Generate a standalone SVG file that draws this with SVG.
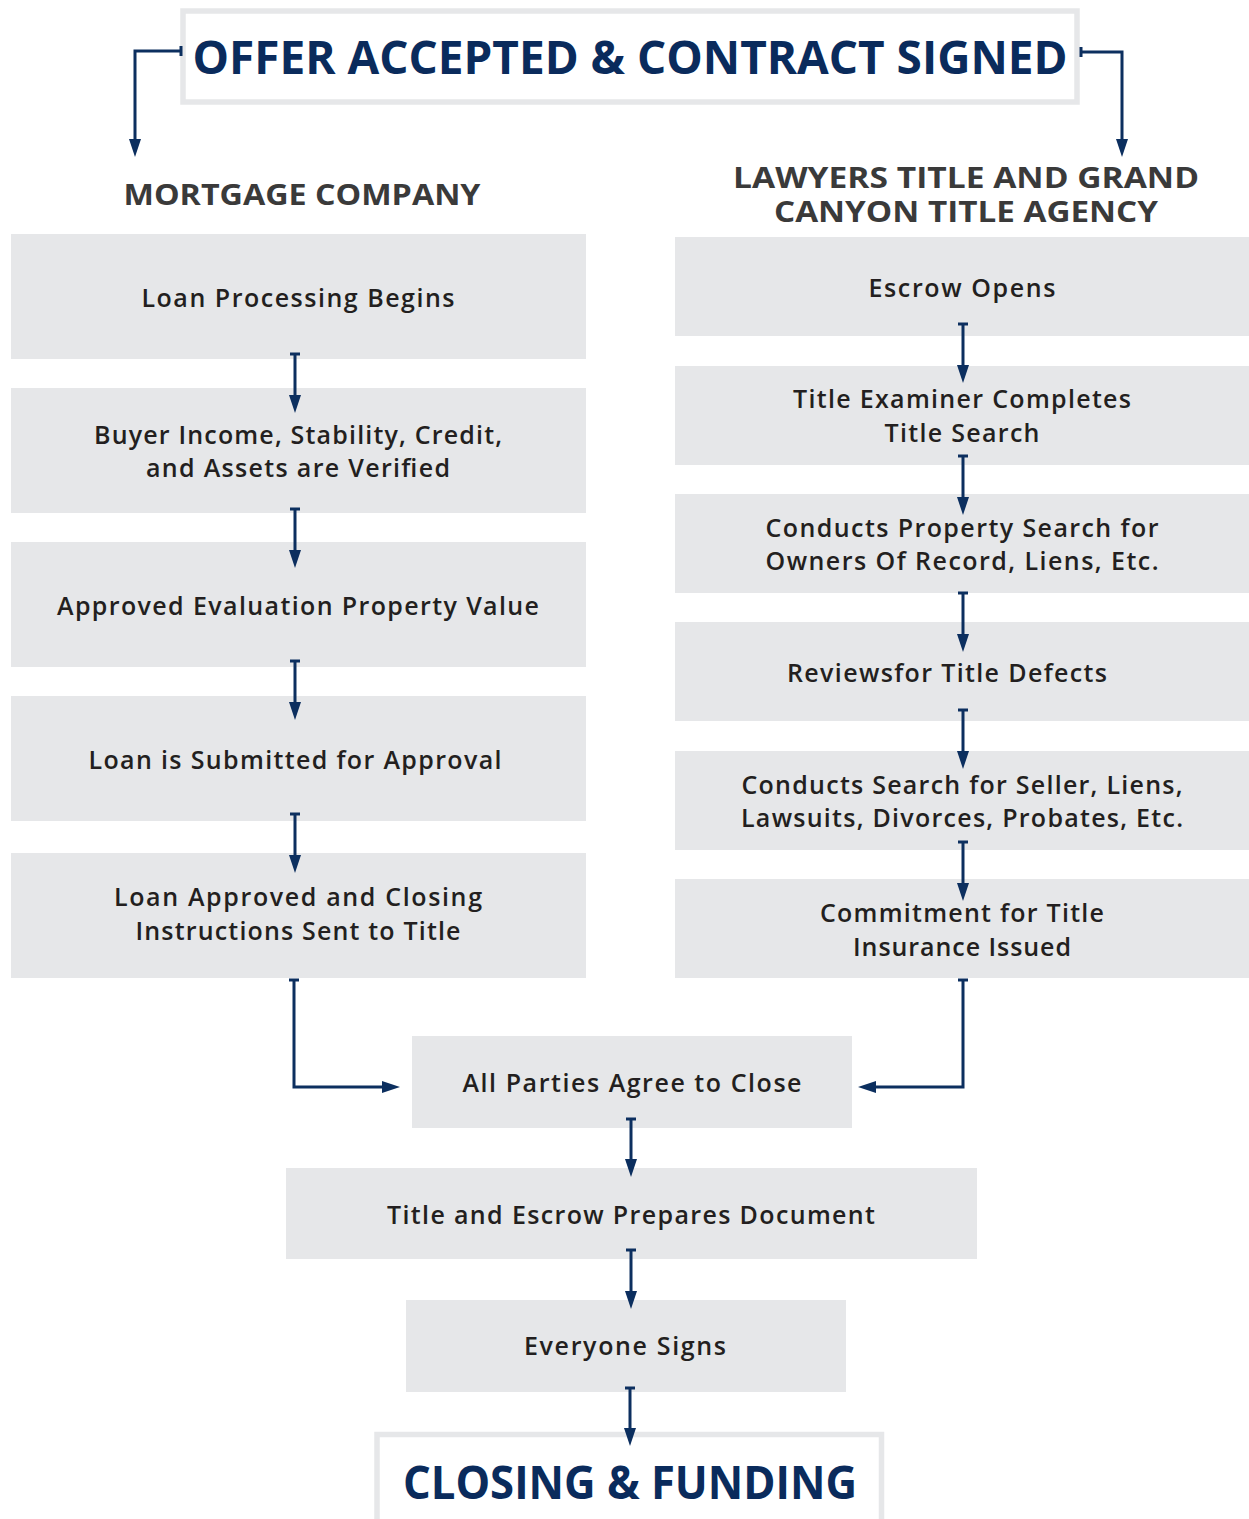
<svg xmlns="http://www.w3.org/2000/svg" width="1249" height="1519" viewBox="0 0 1249 1519">
<style>
.box{fill:#e6e7e9}
.frame{fill:#fff;stroke:#e6e7e9;stroke-width:5.5}
.t{font-family:"Open Sans","Liberation Sans",sans-serif;font-weight:600;font-size:25px;fill:#231f20;text-anchor:middle}
.h{font-family:"Open Sans","Liberation Sans",sans-serif;font-weight:700;font-size:29px;fill:#3a3a3a;text-anchor:middle}
.big{font-family:"Open Sans","Liberation Sans",sans-serif;font-weight:700;font-size:46px;fill:#0a2b5c;text-anchor:middle}
.c{fill:none;stroke:#0c2f5f;stroke-width:3;marker-start:url(#tick);marker-end:url(#head)}
</style>
<defs>
<marker id="head" markerUnits="userSpaceOnUse" viewBox="0 0 18 12" refX="10" refY="6" markerWidth="18" markerHeight="12" orient="auto">
<path d="M0,0 L18,6 L0,12 z" fill="#0c2f5f"/>
</marker>
<marker id="tick" markerUnits="userSpaceOnUse" viewBox="-2 -6 4 12" refX="0" refY="0" markerWidth="4" markerHeight="12" orient="auto">
<rect x="-1.5" y="-5" width="3" height="10" fill="#0c2f5f"/>
</marker>
</defs>

<g id="start">
<rect class="frame" x="183" y="11" width="894" height="91"/>
<text class="big" x="630" y="74" textLength="875" lengthAdjust="spacingAndGlyphs">OFFER ACCEPTED &amp; CONTRACT SIGNED</text>
</g>

<g id="header-mortgage">
<text class="h" x="302" y="205" textLength="357" lengthAdjust="spacingAndGlyphs">MORTGAGE COMPANY</text>
</g>
<g id="header-title">
<text class="h" x="966" y="188" textLength="466" lengthAdjust="spacingAndGlyphs">LAWYERS TITLE AND GRAND</text>
<text class="h" x="966" y="222" textLength="384" lengthAdjust="spacingAndGlyphs">CANYON TITLE AGENCY</text>
</g>

<g id="m1"><rect class="box" x="11" y="234" width="575" height="125"/>
<text class="t" x="298" y="307" textLength="313">Loan Processing Begins</text></g>
<g id="m2"><rect class="box" x="11" y="388" width="575" height="125"/>
<text class="t" x="298" y="444" textLength="408">Buyer Income, Stability, Credit,</text>
<text class="t" x="298" y="477" textLength="304">and Assets are Verified</text></g>
<g id="m3"><rect class="box" x="11" y="542" width="575" height="125"/>
<text class="t" x="298" y="615" textLength="482">Approved Evaluation Property Value</text></g>
<g id="m4"><rect class="box" x="11" y="696" width="575" height="125"/>
<text class="t" x="295" y="769" textLength="413">Loan is Submitted for Approval</text></g>
<g id="m5"><rect class="box" x="11" y="853" width="575" height="125"/>
<text class="t" x="298" y="906" textLength="368">Loan Approved and Closing</text>
<text class="t" x="298" y="940" textLength="325">Instructions Sent to Title</text></g>

<g id="t1"><rect class="box" x="675" y="237" width="574" height="99"/>
<text class="t" x="962" y="297" textLength="187">Escrow Opens</text></g>
<g id="t2"><rect class="box" x="675" y="366" width="574" height="99"/>
<text class="t" x="962" y="408" textLength="338">Title Examiner Completes</text>
<text class="t" x="962" y="442" textLength="155">Title Search</text></g>
<g id="t3"><rect class="box" x="675" y="494" width="574" height="99"/>
<text class="t" x="962" y="537" textLength="393">Conducts Property Search for</text>
<text class="t" x="962" y="570" textLength="393">Owners Of Record, Liens, Etc.</text></g>
<g id="t4"><rect class="box" x="675" y="622" width="574" height="99"/>
<text class="t" x="947" y="682" textLength="320">Reviewsfor Title Defects</text></g>
<g id="t5"><rect class="box" x="675" y="751" width="574" height="99"/>
<text class="t" x="962" y="794" textLength="441">Conducts Search for Seller, Liens,</text>
<text class="t" x="962" y="827" textLength="442">Lawsuits, Divorces, Probates, Etc.</text></g>
<g id="t6"><rect class="box" x="675" y="879" width="574" height="99"/>
<text class="t" x="962" y="922" textLength="284">Commitment for Title</text>
<text class="t" x="962" y="956" textLength="218">Insurance Issued</text></g>

<g id="agree"><rect class="box" x="412" y="1036" width="440" height="92"/>
<text class="t" x="632" y="1092" textLength="339">All Parties Agree to Close</text></g>
<g id="prepare"><rect class="box" x="286" y="1168" width="691" height="91"/>
<text class="t" x="631" y="1224" textLength="488">Title and Escrow Prepares Document</text></g>
<g id="sign"><rect class="box" x="406" y="1300" width="440" height="92"/>
<text class="t" x="625" y="1355" textLength="202">Everyone Signs</text></g>

<g id="closing">
<rect class="frame" x="377" y="1434.5" width="504.5" height="100"/>
<text class="big" x="630" y="1499" textLength="454" lengthAdjust="spacingAndGlyphs">CLOSING &amp; FUNDING</text>
</g>

<g id="connectors">
<path class="c" d="M181,51 H135 V149"/>
<path class="c" d="M1081,52 H1122 V149"/>
<path class="c" d="M295,354 V405"/>
<path class="c" d="M295,509 V560"/>
<path class="c" d="M295,661 V712"/>
<path class="c" d="M295,814 V865"/>
<path class="c" d="M963,324 V375"/>
<path class="c" d="M963,456 V507"/>
<path class="c" d="M963,593 V644"/>
<path class="c" d="M963,710 V761"/>
<path class="c" d="M963,842 V893"/>
<path class="c" d="M294,980 V1087 H392"/>
<path class="c" d="M963,980 V1087 H866"/>
<path class="c" d="M631,1119 V1169"/>
<path class="c" d="M631,1250 V1301"/>
<path class="c" d="M630,1388 V1438"/>
</g>
</svg>
